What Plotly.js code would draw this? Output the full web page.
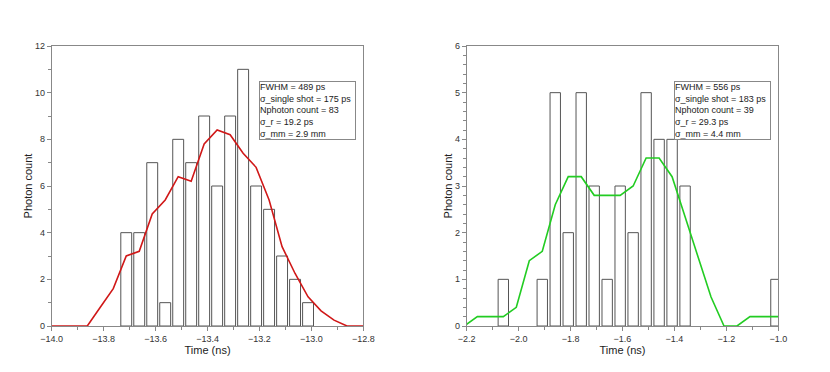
<!DOCTYPE html>
<html>
<head>
<meta charset="utf-8">
<script src="https://cdn.plot.ly/plotly-3.0.1.min.js"></script>
<style>
  body { margin: 0; background: #fff; }
  #chart { width: 830px; height: 372px; }
</style>
</head>
<body>
<div id="chart"></div>
<script>
// ---------- left panel data ----------
const leftTime = [-13.713, -13.663, -13.613, -13.563, -13.513, -13.463, -13.413, -13.363,
  -13.313, -13.263, -13.213, -13.163, -13.113, -13.063, -13.013];
const leftCounts = [4, 4, 7, 1, 8, 7, 9, 6, 9, 11, 6, 5, 3, 2, 1];

const leftFitTime = [-14.0, -13.863, -13.813, -13.763, -13.713, -13.663, -13.613, -13.563,
  -13.513, -13.463, -13.413, -13.363, -13.313, -13.263, -13.213, -13.163, -13.113,
  -13.063, -13.013, -12.963, -12.913, -12.863, -12.8];
const leftFit = [0, 0, 0.8, 1.6, 3.0, 3.2, 4.8, 5.4, 6.4, 6.2, 7.8, 8.4, 8.2, 7.4, 6.8,
  5.4, 3.4, 2.25, 1.25, 0.65, 0.25, 0, 0];

const leftStats = ["FWHM = 489 ps", "σ_single shot = 175 ps", "Nphoton count = 83",
  "σ_r = 19.2 ps", "σ_mm = 2.9 mm"];

// ---------- right panel data ----------
const rightTime = [-2.059, -1.909, -1.859, -1.809, -1.759, -1.709, -1.659, -1.609,
  -1.559, -1.509, -1.459, -1.409, -1.359, -1.009];
const rightCounts = [1, 1, 5, 2, 5, 3, 1, 3, 2, 5, 4, 4, 3, 1];

const rightFitTime = [-2.209, -2.159, -2.109, -2.059, -2.009, -1.959, -1.909, -1.859,
  -1.809, -1.759, -1.709, -1.659, -1.609, -1.559, -1.509, -1.459, -1.409, -1.359,
  -1.309, -1.259, -1.209, -1.159, -1.109, -1.059, -1.009, -0.959];
const rightFit = [0, 0.2, 0.2, 0.2, 0.4, 1.4, 1.6, 2.6, 3.2, 3.2, 2.8, 2.8, 2.8, 3.0,
  3.6, 3.6, 3.2, 2.34, 1.48, 0.62, 0, 0, 0.2, 0.2, 0.2, 0.2];

const rightStats = ["FWHM = 556 ps", "σ_single shot = 183 ps", "Nphoton count = 39",
  "σ_r = 29.3 ps", "σ_mm = 4.4 mm"];

// ---------- traces ----------
const font = "Liberation Sans, Arial, sans-serif";

function barTrace(x, y, width, xa, ya) {
  return {
    type: 'bar',
    x: x,
    y: y,
    width: width,
    xaxis: xa,
    yaxis: ya,
    marker: { color: '#ffffff', line: { color: '#555555', width: 1 } },
    hoverinfo: 'x+y'
  };
}

function fitTrace(x, y, color, xa, ya) {
  return {
    type: 'scatter',
    mode: 'lines',
    x: x,
    y: y,
    xaxis: xa,
    yaxis: ya,
    line: { color: color, width: 1.6 }
  };
}

const traces = [
  barTrace(leftTime, leftCounts, 0.042, 'x', 'y'),
  fitTrace(leftFitTime, leftFit, '#d01818', 'x', 'y'),
  barTrace(rightTime, rightCounts, 0.04, 'x2', 'y2'),
  fitTrace(rightFitTime, rightFit, '#22cc22', 'x2', 'y2')
];

function xAxis(domain, range, anchor) {
  return {
    domain: domain,
    range: range,
    anchor: anchor,
    dtick: 0.2,
    tick0: 0,
    tickformat: '.1f',
    ticks: 'outside',
    ticklen: 4,
    tickcolor: '#888',
    minor: { dtick: 0.1, ticks: 'outside', ticklen: 3, tickcolor: '#888' },
    showgrid: false,
    zeroline: false,
    showline: true,
    linecolor: '#888',
    mirror: true,
    tickfont: { family: font, size: 9, color: '#333' },
    title: { text: 'Time (ns)', font: { family: font, size: 11, color: '#222' }, standoff: 0 }
  };
}

function yAxis(range, dtick, minor, anchor) {
  return {
    range: range,
    anchor: anchor,
    dtick: dtick,
    ticks: 'outside',
    ticklen: 4,
    tickcolor: '#888',
    minor: { dtick: minor, ticks: 'outside', ticklen: 3, tickcolor: '#888' },
    showgrid: false,
    zeroline: false,
    showline: true,
    linecolor: '#888',
    mirror: true,
    tickfont: { family: font, size: 9, color: '#333' },
    title: { text: 'Photon count', font: { family: font, size: 11, color: '#222' }, standoff: 0 }
  };
}

function statsBox(lines, x, y, xref, yref) {
  return {
    xref: xref,
    yref: yref,
    x: x,
    y: y,
    xanchor: 'left',
    yanchor: 'top',
    showarrow: false,
    align: 'left',
    width: 95,
    text: lines.join('<br>'),
    font: { family: font, size: 9, color: '#222' },
    bgcolor: '#ffffff',
    bordercolor: '#888',
    borderwidth: 1,
    borderpad: 0
  };
}

const layout = {
  width: 830,
  height: 372,
  margin: { l: 0, r: 0, t: 46, b: 46 },
  paper_bgcolor: '#ffffff',
  plot_bgcolor: '#ffffff',
  showlegend: false,
  bargap: 0,
  xaxis: xAxis([0.0623, 0.4378], [-14.0, -12.8], 'y'),
  yaxis: yAxis([0, 12], 2, 1, 'x'),
  xaxis2: xAxis([0.5623, 0.9377], [-2.2, -1.0], 'y2'),
  yaxis2: yAxis([0, 6], 1, 0.2, 'x2'),
  annotations: [
    statsBox(leftStats, -13.2, 10.5, 'x', 'y'),
    statsBox(rightStats, -1.4, 5.25, 'x2', 'y2')
  ]
};

Plotly.newPlot('chart', traces, layout, { displayModeBar: false, staticPlot: true });
</script>
</body>
</html>
